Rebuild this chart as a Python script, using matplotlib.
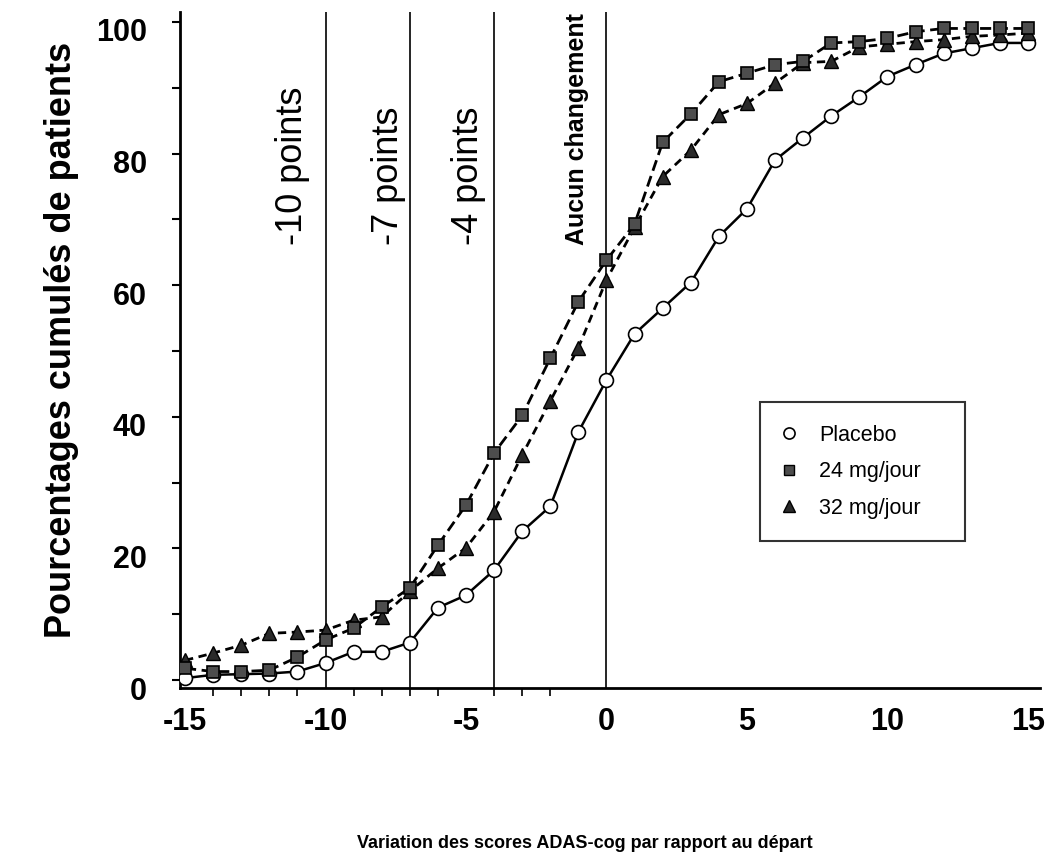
import matplotlib
matplotlib.use('Agg')
import matplotlib.pyplot as plt
from matplotlib import font_manager
from matplotlib.lines import Line2D
from matplotlib.ticker import FixedLocator
from matplotlib.transforms import ScaledTranslation

# ---------------- data ----------------
x = list(range(-15, 16))
placebo = [0.3, 0.8, 0.9, 1.0, 1.3, 2.6, 4.3, 4.3, 5.7, 11.0, 12.9, 16.7, 22.6, 26.4,
           37.7, 45.6, 52.6, 56.5, 60.4, 67.4, 71.6, 79.0, 82.4, 85.7, 88.6, 91.7,
           93.5, 95.2, 96.0, 96.8, 96.8]
mg24 = [1.8, 1.3, 1.3, 1.5, 3.5, 6.1, 7.9, 11.1, 14.0, 20.5, 26.6, 34.5, 40.2, 48.9,
        57.5, 63.8, 69.3, 81.7, 86.0, 90.9, 92.2, 93.5, 94.0, 96.8, 97.0, 97.5,
        98.5, 99.0, 99.0, 99.0, 99.0]
mg32 = [3.0, 4.1, 5.3, 7.1, 7.3, 7.6, 9.1, 9.6, 13.5, 17.0, 20.1, 25.6, 34.2, 42.4,
        50.5, 60.8, 68.8, 76.5, 80.5, 85.9, 87.6, 90.7, 93.8, 94.0, 96.2, 96.6,
        97.0, 97.3, 97.8, 98.0, 98.3]
series_labels = ['Placebo', '24 mg/jour', '32 mg/jour']
ref_lines = [-10, -7, -4, 0]
ref_labels = ['-10 points', '-7 points', '-4 points', 'Aucun changement']
xticks = [-15, -10, -5, 0, 5, 10, 15]
xminor = list(range(-15, -1))
yticks = [0, 20, 40, 60, 80, 100]
yminor = [10, 30, 50, 70, 90]

# ---------------- fonts ----------------
names = {f.name for f in font_manager.fontManager.ttflist}
NARROW = 'Liberation Sans Narrow' if 'Liberation Sans Narrow' in names else 'Liberation Sans'
plt.rcParams['font.family'] = ['Liberation Sans', 'DejaVu Sans']
plt.rcParams['axes.unicode_minus'] = False

W, H = 1053, 863
fig = plt.figure(figsize=(W / 100, H / 100), dpi=100)


def fx(px):
    return px / W


def fy(py):
    return 1 - py / H


ax = fig.add_axes([fx(180), fy(688), (1040 - 180) / W, (688 - 12) / H])
ax.set_xlim(-15.18, 15.43)
ax.set_ylim(-1.2, 101.5)

for xv in ref_lines:
    ax.axvline(xv, color='black', lw=1.2, zorder=1)

ax.plot(x, placebo, color='black', lw=1.8, ls='-', marker='o', ms=10,
        mfc='white', mec='black', mew=1.2, zorder=3)
ax.plot(x, mg32, color='black', lw=2.0, ls=(0, (3, 2)), marker='^', ms=10,
        mfc='#2a2a2a', mec='black', mew=1.0, zorder=4)
ax.plot(x, mg24, color='black', lw=2.0, ls=(0, (4, 2)), marker='s', ms=8.5,
        mfc='#4d4d4d', mec='black', mew=1.2, zorder=5)

for s in ['top', 'right']:
    ax.spines[s].set_visible(False)
for s in ['left', 'bottom']:
    ax.spines[s].set_linewidth(2.0)

ax.xaxis.set_major_locator(FixedLocator(xticks))
ax.xaxis.set_minor_locator(FixedLocator(xminor))
ax.yaxis.set_major_locator(FixedLocator(yticks))
ax.yaxis.set_minor_locator(FixedLocator(yminor))
ax.tick_params(axis='x', which='major', length=0, pad=14)
ax.tick_params(axis='x', which='minor', length=6, width=1.2, direction='out')
ax.tick_params(axis='y', which='both', length=6, width=1.5, direction='out', pad=18)
for lab in ax.get_xticklabels() + ax.get_yticklabels():
    lab.set_fontfamily(NARROW)
    lab.set_fontweight('bold')
    lab.set_fontsize(22)
shift = ScaledTranslation(0, -8 / 100, fig.dpi_scale_trans)
for lab in ax.get_yticklabels():
    lab.set_transform(lab.get_transform() + shift)

# axis titles
fig.text(fx(62), fy(340), 'Pourcentages cumulés de patients', rotation=90,
         ha='center', va='center', fontsize=26, fontweight='bold')
fig.text(fx(585), fy(843), 'Variation des scores ADAS-cog par rapport au départ',
         ha='center', va='center', fontsize=13, fontweight='bold')

# reference line labels (bottom-aligned)
lab_x = [292, 388, 469, 577]
for px, t in zip(lab_x, ref_labels):
    bold = t.startswith('Aucun')
    fig.text(fx(px), fy(245), t, rotation=90, ha='center', va='bottom',
             fontsize=18 if bold else 26, fontweight='bold' if bold else 'normal')

# legend
handles = [
    Line2D([], [], ls='none', marker='o', ms=8, mfc='white', mec='black', mew=1.2),
    Line2D([], [], ls='none', marker='s', ms=7, mfc='#4d4d4d', mec='black', mew=1.0),
    Line2D([], [], ls='none', marker='^', ms=9, mfc='#2a2a2a', mec='black', mew=1.0),
]
leg = fig.legend(handles, series_labels, loc='upper left',
                 bbox_to_anchor=(fx(760), fy(545), 205 / W, 143 / H),
                 bbox_transform=fig.transFigure, mode='expand',
                 frameon=True, fancybox=False, shadow=False, fontsize=15.5,
                 borderpad=1.05, labelspacing=0.72, handletextpad=1.1,
                 handlelength=0.6, borderaxespad=0)
leg.get_frame().set_edgecolor('black')
leg.get_frame().set_linewidth(1.5)

fig.savefig('out.png', dpi=100)
